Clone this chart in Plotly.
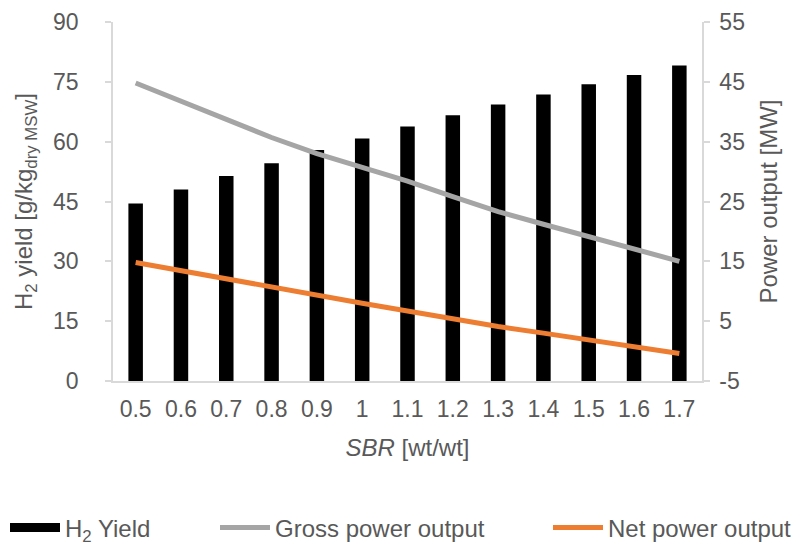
import plotly.graph_objects as go

# Steam-to-biomass ratio (SBR) cases
sbr = ["0.5", "0.6", "0.7", "0.8", "0.9", "1", "1.1", "1.2", "1.3", "1.4", "1.5", "1.6", "1.7"]

# H2 yield [g/kg dry MSW]
h2_yield = [44.5, 48.0, 51.4, 54.6, 57.9, 60.8, 63.8, 66.6, 69.3, 71.8, 74.4, 76.7, 79.1]

# Power output [MW]
gross_power = [44.8, 41.7, 38.6, 35.7, 33.0, 30.7, 28.4, 25.8, 23.3, 21.2, 19.1, 17.0, 15.0]
net_power = [14.8, 13.4, 12.0, 10.6, 9.3, 8.0, 6.7, 5.3, 4.1, 3.0, 1.9, 0.7, -0.4]

left_ticks = [0, 15, 30, 45, 60, 75, 90]
right_ticks = [-5, 5, 15, 25, 35, 45, 55]
right_tick_text = ["-5", "5", "15", "25", "35", "45", "55"]

FONT = "Liberation Sans, Arial, sans-serif"
TXT = "#595959"
AXIS = "#d9d9d9"
FS = 23
FT = 24
W, H = 794, 545

fig = go.Figure()

fig.add_trace(go.Bar(
    x=sbr, y=h2_yield, name="H<sub>2</sub> Yield",
    marker=dict(color="black", line=dict(width=0)),
    width=0.32, showlegend=False, yaxis="y",
))
# legend entry for the bars, drawn as a wide black swatch
fig.add_trace(go.Scatter(
    x=[None], y=[None], mode="lines", name="H<sub>2</sub> Yield",
    line=dict(color="black", width=9), legend="legend", yaxis="y",
))
fig.add_trace(go.Scatter(
    x=sbr, y=gross_power, mode="lines", name="Gross power output",
    line=dict(color="#a5a5a5", width=5), yaxis="y2", legend="legend2",
))
fig.add_trace(go.Scatter(
    x=sbr, y=net_power, mode="lines", name="Net power output",
    line=dict(color="#ed7d31", width=5), yaxis="y2", legend="legend3",
))

leg_common = dict(
    orientation="h", yanchor="middle", xanchor="left",
    xref="container", yref="container", y=(H - 528) / H,
    font=dict(family=FONT, size=FT, color=TXT), bgcolor="rgba(0,0,0,0)",
    itemwidth=50,
)

fig.update_layout(
    width=W, height=H,
    margin=dict(l=113, r=92, t=22, b=164, autoexpand=False),
    paper_bgcolor="white", plot_bgcolor="white",
    font=dict(family=FONT, size=FS, color=TXT),
    xaxis=dict(
        type="category", showline=True, linecolor=AXIS, linewidth=1.5,
        ticks="", showgrid=False, tickfont=dict(size=FS, color=TXT),
        ticklabelstandoff=7,
        title=dict(text="<i>SBR</i> [wt/wt]", font=dict(size=FT, color=TXT), standoff=18),
    ),
    yaxis=dict(
        range=[0, 90], tickvals=left_ticks, showgrid=False, zeroline=False,
        showline=True, linecolor=AXIS, linewidth=1.5,
        ticks="outside", ticklen=6, tickcolor=AXIS, tickwidth=1.5,
        ticklabelstandoff=22, tickfont=dict(size=FS, color=TXT),
        title=dict(text="H<sub>2</sub> yield [g/kg<sub>dry MSW</sub>]",
                   font=dict(size=FT, color=TXT), standoff=14),
    ),
    yaxis2=dict(
        range=[-5, 55], tickvals=right_ticks, ticktext=right_tick_text,
        overlaying="y", side="right", showgrid=False, zeroline=False,
        showline=True, linecolor=AXIS, linewidth=1.5,
        ticks="outside", ticklen=6, tickcolor=AXIS, tickwidth=1.5,
        ticklabelstandoff=5, tickfont=dict(size=FS, color=TXT),
        title=dict(text="Power output [MW]", font=dict(size=FT, color=TXT), standoff=16),
    ),
    legend=dict(x=5 / W, **leg_common),
    legend2=dict(x=215 / W, **leg_common),
    legend3=dict(x=548 / W, **leg_common),
)

fig.write_html("out.html")
